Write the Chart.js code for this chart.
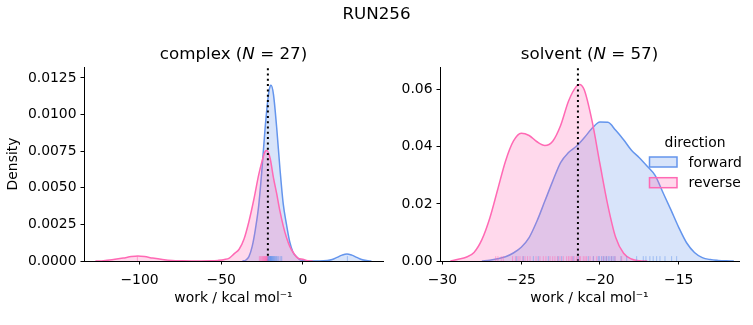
<!DOCTYPE html>
<html>
<head>
<meta charset="utf-8">
<script src="https://cdn.jsdelivr.net/npm/chart.js@4.4.1/dist/chart.umd.min.js"></script>
<style>
html,body{margin:0;padding:0;background:#fff;}
#wrap{position:relative;width:753px;height:325px;overflow:hidden;background:#fff;}
canvas{position:absolute;top:0;}
#sup{position:absolute;left:0;top:5px;width:753px;text-align:center;font-family:'DejaVu Sans';font-size:16.7px;line-height:1;color:#000;}
</style>
</head>
<body>
<div id="wrap">
  <canvas id="c1" width="390" height="325" style="left:0px"></canvas>
  <canvas id="c2" width="363" height="325" style="left:390px"></canvas>
  <div id="sup"></div>
</div>
<script>
// ---------------- data ----------------
const suptitle = 'RUN256';
const directions = ['forward', 'reverse'];
const legendTitle = 'direction';
const xAxisTitle = 'work / kcal mol\u207B\u00B9';
const yAxisTitle = 'Density';
const complexTitle = ['complex (', 'N', ' = 27)'];
const solventTitle = ['solvent (', 'N', ' = 57)'];
const freeEnergy = -21.4;

// complex: KDE curves
const complexForwardWork    = [-37, -35, -33, -31, -29, -27, -25, -23, -21, -20, -19.5, -18, -16, -14, -12, -10, -8, -6, -4, -2, 0, 5, 10, 15, 18, 21, 24, 27, 30, 33, 36, 39, 42];
const complexForwardDensity = [0, 0.00005, 0.0003, 0.0010, 0.0022, 0.0038, 0.0063, 0.0092, 0.0114, 0.01195, 0.0120, 0.0114, 0.0091, 0.0063, 0.0039, 0.0025, 0.0013, 0.0006, 0.0003, 0.0001, 0.00003, 0, 0, 0.00003, 0.0001, 0.00025, 0.0004, 0.00048, 0.0004, 0.00025, 0.0001, 0.00003, 0];
const complexReverseWork    = [-127, -122, -116, -110, -105, -101, -97, -92, -86, -80, -74, -68, -62, -56, -52, -48, -45, -42, -39, -36, -33, -30, -27, -25, -23, -22, -20, -18, -16, -14, -12, -10, -8, -6, -3, 0, 3, 6];
const complexReverseDensity = [0, 0.00002, 0.0001, 0.0002, 0.0003, 0.00034, 0.0003, 0.0002, 0.0001, 0.00003, 0.00001, 0, 0, 0.00001, 0.00004, 0.0001, 0.0002, 0.0005, 0.0008, 0.0015, 0.0027, 0.0042, 0.0059, 0.0068, 0.0075, 0.00755, 0.0070, 0.0057, 0.0046, 0.0034, 0.0024, 0.0016, 0.0010, 0.0006, 0.0002, 0.00012, 0.00002, 0];

// solvent: KDE curves
const solventForwardWork    = [-27.5, -27, -26.5, -26, -25.5, -25, -24.5, -24, -23.5, -23, -22.5, -22, -21.5, -21, -20.5, -20, -19.5, -19, -18.5, -18, -17.5, -17, -16.5, -16, -15.5, -15, -14.5, -14, -13.5, -13, -12.5, -12, -11.5];
const solventForwardDensity = [0, 0.0003, 0.0008, 0.0015, 0.0028, 0.0048, 0.0082, 0.0140, 0.0210, 0.0280, 0.0345, 0.0380, 0.0402, 0.0432, 0.0465, 0.0487, 0.0486, 0.0458, 0.0425, 0.0388, 0.0362, 0.0332, 0.0300, 0.0240, 0.0180, 0.0118, 0.0064, 0.0030, 0.0012, 0.0005, 0.0002, 0.00005, 0];
const solventReverseWork    = [-29.5, -29, -28.5, -28, -27.5, -27, -26.5, -26, -25.5, -25, -24.5, -24, -23.5, -23, -22.5, -22, -21.5, -21.3, -21, -20.5, -20, -19.5, -19, -18.5, -18, -17.5, -17];
const solventReverseDensity = [0, 0.0006, 0.0013, 0.0030, 0.0075, 0.0150, 0.0250, 0.0350, 0.0420, 0.0448, 0.0440, 0.0418, 0.0405, 0.0420, 0.0475, 0.0560, 0.0612, 0.0619, 0.0600, 0.0490, 0.0340, 0.0195, 0.0082, 0.0027, 0.0007, 0.0001, 0];

// rug marks (individual work values)
const complexForwardRug = [-21.5, -21.0, -20.8, -20.6, -20.3, -20.0, -19.9, -19.8, -19.6, -19.4, -19.2, -19.0, -18.8, -18.6, -18.3, -18.0, -17.7, -17.4, -17.0, -16.6, -16.2, -15.8, -15.2, -14.6, -13.5, -12.9, 27.3];
const complexReverseRug = [-101.3, -26.6, -26.0, -25.5, -25.0, -24.6, -24.2, -23.9, -23.6, -23.3, -23.1, -22.8, -22.6, -22.4, -22.2, -22.0, -21.8, -21.7, -21.6, -21.5, -21.4, -21.3, -21.2, -21.1, -21.0, -20.8, -20.5];
const solventForwardRug = [-25.29, -24.87, -24.23, -23.92, -23.28, -22.65, -22.43, -21.7, -21.38, -20.74, -20.42, -20.11, -20.04, -19.9, -19.79, -19.68, -19.58, -19.47, -19.37, -19.26, -19.16, -19.05, -18.67, -18.3, -17.67, -17.25, -17.08, -16.83, -16.62, -16.4, -16.19, -15.87, -15.45, -15.13];
const solventReverseRug = [-26.62, -26.48, -26.27, -26.14, -25.55, -25.37, -25.2, -25.08, -24.9, -24.76, -24.6, -24.44, -24.06, -23.81, -23.6, -23.43, -23.17, -23.0, -22.86, -22.7, -22.54, -22.33, -22.12, -22.0, -21.9, -21.8, -21.73, -21.6, -21.48, -21.4, -21.3, -21.23, -21.06, -20.95, -20.85, -20.63, -20.42, -20.21, -19.79, -19.58, -19.26, -19.05, -18.62];

// axis ticks and limits
const complexXTicks = [-100, -50, 0];
const complexYTicks = [0, 0.0025, 0.005, 0.0075, 0.01, 0.0125];
const solventXTicks = [-30, -25, -20, -15];
const solventYTicks = [0, 0.02, 0.04, 0.06];
const complexXRange = [-134, 49.1];
const complexYRange = [0, 0.01325];
const solventXRange = [-30.16, -11.17];
const solventYRange = [0, 0.068];

// ---------------- styling ----------------
const FONT = 'DejaVu Sans';
const FS = 13.9;
const BLUE = '#6495ED', BLUE_FILL = 'rgba(100,149,237,0.25)', BLUE_RUG = 'rgba(100,149,237,0.5)';
const PINK = '#FF69B4', PINK_FILL = 'rgba(255,105,180,0.25)', PINK_RUG = 'rgba(255,105,180,0.5)';
Chart.defaults.font.family = FONT;
Chart.defaults.font.size = FS;
Chart.defaults.color = '#000';

document.getElementById('sup').textContent = suptitle;

function pts(xs, ys) { return xs.map((x, i) => ({x: x, y: ys[i]})); }
function kde(label, xs, ys, color, fill, order) {
  return {label, data: pts(xs, ys), borderColor: color, backgroundColor: fill, fill: 'origin',
    borderWidth: 1.5, pointRadius: 0, cubicInterpolationMode: 'monotone', order};
}
function rug(label, xs, color, ymax) {
  return {label, data: xs.map(x => ({x: x, y: ymax * 0.0125})), showLine: false, fill: false,
    pointStyle: 'line', pointRotation: 90, pointRadius: 2.45, pointBorderColor: color,
    pointBorderWidth: 1, pointBackgroundColor: color, order: 0};
}
function vline(x, ymax) {
  return {label: 'dG', data: [{x: x, y: 0}, {x: x, y: ymax}], borderColor: '#000', borderWidth: 2,
    borderDash: [2, 3.3], pointRadius: 0, fill: false, order: 1};
}
const fmtX = v => (v < 0 ? '\u2212' : '') + Math.abs(v);

const titlePlugin = {
  id: 'mixTitle',
  afterDraw(chart, args, opts) {
    const {ctx, chartArea} = chart;
    const parts = opts.parts;
    ctx.save();
    const fonts = parts.map((p, i) => (i === 1 ? 'italic ' : '') + opts.size + 'px "' + FONT + '"');
    let widths = [], total = 0;
    parts.forEach((p, i) => { ctx.font = fonts[i]; const w = ctx.measureText(p).width; widths.push(w); total += w; });
    let x = (chartArea.left + chartArea.right) / 2 - total / 2;
    ctx.fillStyle = '#000'; ctx.textAlign = 'left'; ctx.textBaseline = 'alphabetic';
    parts.forEach((p, i) => { ctx.font = fonts[i]; ctx.fillText(p, x, opts.baseline); x += widths[i]; });
    ctx.restore();
  }
};

const legendPlugin = {
  id: 'sideLegend',
  afterDraw(chart, args, opts) {
    if (!opts.show) return;
    const ctx = chart.ctx;
    ctx.save();
    ctx.font = FS + 'px "' + FONT + '"';
    ctx.fillStyle = '#000'; ctx.textBaseline = 'alphabetic';
    ctx.textAlign = 'center';
    ctx.fillText(legendTitle, opts.cx, opts.titleBaseline);
    const cols = [[BLUE, BLUE_FILL], [PINK, PINK_FILL]];
    directions.forEach((d, i) => {
      const y = opts.firstTop + i * opts.step;
      ctx.fillStyle = cols[i][1];
      ctx.fillRect(opts.px, y, opts.pw, opts.ph);
      ctx.strokeStyle = cols[i][0]; ctx.lineWidth = 1.5;
      ctx.strokeRect(opts.px, y, opts.pw, opts.ph);
      ctx.fillStyle = '#000'; ctx.textAlign = 'left';
      ctx.fillText(d, opts.tx, y + opts.ph / 2 + 4.5);
    });
    ctx.restore();
  }
};

function makeScales(xr, xTicks, yr, yTicks, yDec, yWidth, showYTitle) {
  return {
    x: {
      type: 'linear', min: xr[0], max: xr[1],
      afterBuildTicks: s => { s.ticks = xTicks.map(v => ({value: v})); },
      afterFit: s => { s.height = 64; },
      grid: {drawOnChartArea: false, drawTicks: true, tickLength: 3.5, color: '#000', lineWidth: 1},
      border: {display: true, color: '#000', width: 1},
      ticks: {autoSkip: false, maxRotation: 0, minRotation: 0, padding: 8, color: '#000', font: {size: FS},
        callback: v => fmtX(v)},
      title: {display: true, text: xAxisTitle, color: '#000', font: {size: FS}, padding: {top: 0, bottom: 18}}
    },
    y: {
      type: 'linear', min: yr[0], max: yr[1],
      afterBuildTicks: s => { s.ticks = yTicks.map(v => ({value: v})); },
      afterFit: s => { s.width = yWidth; },
      grid: {drawOnChartArea: false, drawTicks: true, tickLength: 3.5, color: '#000', lineWidth: 1},
      border: {display: true, color: '#000', width: 1},
      ticks: {autoSkip: false, padding: 4, color: '#000', font: {size: FS}, callback: v => Number(v).toFixed(yDec)},
      title: {display: showYTitle, text: yAxisTitle, color: '#000', font: {size: FS}, padding: {top: 5, bottom: 0}}
    }
  };
}

function makeChart(id, cfg) {
  return new Chart(document.getElementById(id), {
    type: 'line',
    data: {datasets: [
      rug('forward rug', cfg.fRug, BLUE_RUG, cfg.yr[1]),
      rug('reverse rug', cfg.rRug, PINK_RUG, cfg.yr[1]),
      vline(freeEnergy, cfg.yr[1]),
      kde(directions[1], cfg.rX, cfg.rY, PINK, PINK_FILL, 2),
      kde(directions[0], cfg.fX, cfg.fY, BLUE, BLUE_FILL, 3)
    ]},
    options: {
      responsive: false, animation: false, events: [],
      layout: {padding: {top: 67, right: cfg.padRight, bottom: 0, left: 0}},
      scales: makeScales(cfg.xr, cfg.xTicks, cfg.yr, cfg.yTicks, cfg.yDec, cfg.yWidth, cfg.showYTitle),
      plugins: {
        legend: {display: false}, tooltip: {enabled: false}, title: {display: false},
        mixTitle: {parts: cfg.title, size: 16.7, baseline: 58.7},
        sideLegend: cfg.legend
      }
    },
    plugins: [titlePlugin, legendPlugin]
  });
}

makeChart('c1', {
  fX: complexForwardWork, fY: complexForwardDensity, rX: complexReverseWork, rY: complexReverseDensity,
  fRug: complexForwardRug, rRug: complexReverseRug,
  xr: complexXRange, yr: complexYRange, xTicks: complexXTicks, yTicks: complexYTicks, yDec: 4,
  yWidth: 84, showYTitle: true, padRight: 7, title: complexTitle, legend: {show: false}
});
makeChart('c2', {
  fX: solventForwardWork, fY: solventForwardDensity, rX: solventReverseWork, rY: solventReverseDensity,
  fRug: solventForwardRug, rRug: solventReverseRug,
  xr: solventXRange, yr: solventYRange, xTicks: solventXTicks, yTicks: solventYTicks, yDec: 2,
  yWidth: 50, showYTitle: false, padRight: 14, title: solventTitle,
  legend: {show: true, cx: 305, titleBaseline: 146.5, px: 259.5, pw: 27.5, ph: 10, firstTop: 157, step: 20.7, tx: 298.5}
});
</script>
</body>
</html>
